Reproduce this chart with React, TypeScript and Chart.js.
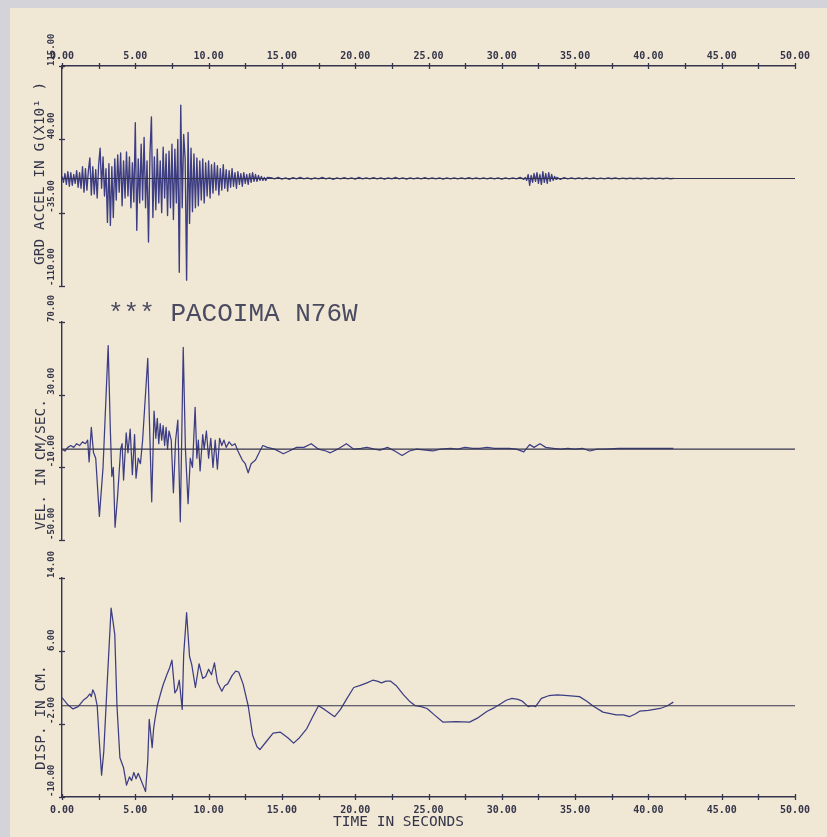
import React, { useEffect, useRef } from "react";
import { Chart, registerables } from "chart.js";

Chart.register(...registerables);

const W = 827;
const H = 837;
const MONO = '"DejaVu Sans Mono", "Liberation Mono", monospace';
const THIN_MONO = '"Liberation Mono", "DejaVu Sans Mono", monospace';
const TRACE = "#3d3d84";
const AXIS = "#34344e";
const TEXT = "#35354a";

// ---- tick values ----
const timeTicks = [0, 2.5, 5, 7.5, 10, 12.5, 15, 17.5, 20, 22.5, 25, 27.5, 30, 32.5, 35, 37.5, 40, 42.5, 45, 47.5, 50];
const accelTicks = [-110, -35, 40, 115];
const velTicks = [-50, -10, 30, 70];
const dispTicks = [-10, -2, 6, 14];

// ---- ground acceleration ----
const accelStep = 0.1; // seconds, from t = 0
const accelMain = [
  2, -4, 5, -6, 7, -8, 6, -7, 4, -5,
  8, -9, 6, -10, 12, -14, 10, -12, 8, 21,
  -17, 12, -16, 9, -20, 14, 31, -10, 22, -18,
  10, -45, 15, -48, 12, -40, 20, -22, 24, -14,
  26, -28, 18, -20, 27, -18, 22, -30, 16, -24,
  57, -53, 20, -25, 35, -22, 42, -30, 18, -65,
  25, 63, -40, 22, -32, 30, -25, 18, -35, 32,
  -20, 25, -38, 28, -30, 35, -42, 30, -25, 40,
  -96, 75, -30, 45, 20, -104, 47, -46, 31, -34,
  25, -30, 21, -28, 18, -22, 20, -25, 16, -18,
  18, -20, 14, -15, 16, -12, 13, -17, 10, -12,
  14, -10, 9, -13, 8, -9, 10, -8, 6, -10,
  7, -6, 5, -8, 6, -5, 4, -6, 5, -4,
  6, -3, 4, -3, 3, -2, 2, -2, 1, -2, 1,
];
const accelQuietStart = 14.25;
const accelQuietStep = 0.25;
const accelQuiet = [
  0.8, -0.5, 1, -0.8, 0.5, -1, 0.8, -0.5, 1, -0.5,
  0.5, -0.8, 0.5, -0.5, 1, -0.5, 0.5, -1, 0.5, -0.5,
  0.8, -0.5, 0.5, -0.8, 1, -0.5, 0.5, -0.5, 0.8, -0.5,
  0.5, -0.8, 0.5, -0.5, 1, -0.5, 0.5, -0.8, 0.5, -0.5,
  0.5, -0.5, 0.8, -0.5, 0.5, -0.5, 0.5, -0.8, 0.5, -0.5,
  0.5, -0.5, 0.5, -0.5, 0.8, -0.5, 0.5, -0.5, 0.5, -0.5,
  0.5, -0.5, 0.5, -0.8, 0.5, -0.5, 0.5, -0.5, 1, -1,
];
const accelBurstStart = 31.6;
const accelBurstStep = 0.1;
const accelBurst = [
  1, -2, 4, -7, 3, -4, 5, -3, 6, -5, 4, -6, 7, -4, 5, -5, 6, -3, 4, -2, 2, -1,
];
const accelLateStart = 33.75;
const accelLateStep = 0.25;
const accelLate = [
  1, -1, 0.8, -0.5, 0.5, -0.5, 0.5, -0.5, 0.5, -0.5,
  0.5, -0.5, 0.3, -0.5, 0.5, -0.3, 0.5, -0.5, 0.3, -0.3,
  0.3, -0.3, 0.3, -0.3, 0.3, -0.3, 0.3, -0.3, 0.3, -0.3,
  0.3, -0.3, 0,
];

// ---- velocity (cm/sec) ----
const velTimes = [
  0, 0.2, 0.4, 0.6, 0.8, 1.0, 1.2, 1.4, 1.6, 1.75, 1.85, 2.0, 2.15, 2.3, 2.55, 2.8,
  3.15, 3.3, 3.4, 3.5, 3.62, 3.8, 4.0, 4.1, 4.2, 4.38, 4.5, 4.65, 4.8, 4.95, 5.05,
  5.2, 5.35, 5.5, 5.85, 6.0, 6.12, 6.28, 6.4, 6.5, 6.6, 6.7, 6.8, 6.9, 7.0, 7.1,
  7.2, 7.3, 7.45, 7.6, 7.75, 7.9, 8.07, 8.27, 8.42, 8.6, 8.75, 8.9, 9.08, 9.2, 9.3,
  9.42, 9.6, 9.7, 9.85, 10.0, 10.15, 10.3, 10.45, 10.6, 10.75, 10.9, 11.05, 11.2,
  11.4, 11.6, 11.8, 12.0, 12.3, 12.5, 12.7, 12.9, 13.2, 13.5, 13.7, 14.0, 14.5,
  15.1, 15.5, 16.0, 16.5, 17.0, 17.5, 18.0, 18.3, 18.8, 19.4, 19.9, 20.4, 20.8,
  21.3, 21.7, 22.2, 22.7, 23.2, 23.7, 24.2, 24.8, 25.3, 25.8, 26.5, 27.0, 27.5,
  28.0, 28.5, 29.0, 29.5, 30.0, 30.5, 31.0, 31.5, 31.9, 32.2, 32.6, 33.0, 33.5,
  34.0, 34.5, 35.0, 35.5, 36.0, 36.5, 37.0, 38.0, 39.0, 40.0, 41.0, 41.7,
];
const velValues = [
  0, -1, 1, 2, 1, 3, 2, 4, 3, 5, -7, 12, -2, -5, -37, -10,
  57, 10, -15, -10, -43, -25, 0, 3, -17, 9, -2, 11, -14, 8, -16,
  -5, -8, 5, 50, 5, -29, 21, 6, 17, 3, 14, 5, 13, 2, 12,
  0, 10, 5, -24, 5, 16, -40, 56, 0, -30, -5, -10, 23, -5, 5,
  -12, 8, 0, 10, -5, 6, -10, 5, -11, 6, 2, 5, 1,
  4, 2, 3, -1, -6, -8, -13, -8, -6, -1, 2, 1, 0,
  -2.5, -1, 1, 1, 3, 0, -1, -2, 0, 3, 0, 0.5, 1,
  0, -0.5, 1, -1, -3.5, -1, 0, -0.5, -1, 0, 0.5, 0, 1,
  0.5, 0.5, 1, 0.5, 0.5, 0.5, 0, -1.5, 2.5, 1, 3, 1, 0.5,
  0, 0.5, 0, 0.5, -1, 0, 0, 0.5, 0.5, 0.5, 0.5, 0.5,
];

// ---- displacement (cm) ----
const dispTimes = [
  0, 0.4, 0.75, 1.1, 1.45, 1.7, 1.9, 2.0, 2.1, 2.25, 2.4, 2.55, 2.7, 2.85, 3.1,
  3.35, 3.5, 3.6, 3.75, 3.95, 4.2, 4.4, 4.6, 4.75, 4.9, 5.05, 5.2, 5.4, 5.6, 5.7,
  5.85, 5.95, 6.05, 6.15, 6.25, 6.35, 6.5, 6.7, 6.9, 7.15, 7.35, 7.5, 7.7, 7.85,
  8.0, 8.2, 8.3, 8.5, 8.7, 8.85, 9.1, 9.35, 9.6, 9.8, 10.0, 10.2, 10.4, 10.6, 10.9,
  11.1, 11.3, 11.6, 11.85, 12.05, 12.35, 12.7, 13.0, 13.3, 13.5, 13.9, 14.4, 14.9,
  15.4, 15.8, 16.2, 16.7, 17.1, 17.5, 17.9, 18.6, 19.0, 19.4, 19.9, 20.3, 20.8,
  21.2, 21.5, 21.8, 22.1, 22.4, 22.8, 23.3, 23.7, 24.1, 24.5, 24.9, 25.4, 26.0,
  26.9, 27.8, 28.4, 29.0, 29.5, 29.9, 30.3, 30.7, 31.1, 31.4, 31.8, 32.1, 32.3,
  32.7, 33.2, 33.8, 34.5, 35.3, 35.8, 36.2, 36.9, 37.8, 38.3, 38.7, 39.1, 39.4,
  40.0, 40.8, 41.3, 41.7,
];
const dispValues = [
  0.9, 0.1, -0.35, -0.1, 0.6, 0.9, 1.3, 1.0, 1.75, 1.2, 0, -4, -7.6, -5, 3,
  10.7, 9, 7.8, 0, -5.7, -6.8, -8.7, -7.8, -8.2, -7.3, -8, -7.4, -8.2, -9, -9.4,
  -6, -1.5, -3, -4.6, -2.5, -1.4, 0, 1.2, 2.3, 3.4, 4.2, 5, 1.4, 1.8,
  2.8, -0.4, 5.6, 10.2, 5.4, 4.5, 2, 4.6, 3, 3.2, 4, 3.4, 4.7, 2.6, 1.6,
  2.2, 2.4, 3.3, 3.8, 3.7, 2.4, 0, -3.2, -4.5, -4.8, -4, -3, -2.9,
  -3.5, -4.1, -3.5, -2.5, -1.2, 0, -0.4, -1.2, -0.4, 0.7, 2, 2.2, 2.5,
  2.8, 2.7, 2.5, 2.7, 2.7, 2.2, 1.2, 0.5, 0, -0.1, -0.3, -1, -1.8,
  -1.75, -1.8, -1.3, -0.6, -0.2, 0.2, 0.6, 0.8, 0.7, 0.5, -0.1, 0, -0.1,
  0.8, 1.1, 1.2, 1.1, 1.0, 0.5, 0, -0.7, -1.0, -1.0, -1.2, -0.9, -0.6,
  -0.5, -0.3, 0, 0.4,
];

type Pt = { x: number; y: number };
const pairs = (times: number[], values: number[]): Pt[] => times.map((t, i) => ({ x: t, y: values[i] }));
const stepped = (start: number, step: number, values: number[]): Pt[] =>
  values.map((v, i) => ({ x: Math.round((start + i * step) * 1000) / 1000, y: v }));

const accelSeries = [
  ...stepped(0, accelStep, accelMain),
  ...stepped(accelQuietStart, accelQuietStep, accelQuiet),
  ...stepped(accelBurstStart, accelBurstStep, accelBurst),
  ...stepped(accelLateStart, accelLateStep, accelLate),
];
const velSeries = pairs(velTimes, velValues);
const dispSeries = pairs(dispTimes, dispValues);
const baselineSeries = pairs([0, 50], [0, 0]);

// tick marks crossing the axis lines
const crossTicks = {
  id: "crossTicks",
  afterDraw(chart: any) {
    const ctx = chart.ctx;
    ctx.save();
    ctx.strokeStyle = AXIS;
    ctx.lineWidth = 1.3;
    Object.values(chart.scales).forEach((s: any) => {
      if (!s.options.display) return;
      s.ticks.forEach((t: any) => {
        const p = Math.round(s.getPixelForValue(t.value)) + 0.5;
        ctx.beginPath();
        if (s.isHorizontal()) {
          const y = s.position === "top" ? s.bottom : s.top;
          ctx.moveTo(p, y - 3);
          ctx.lineTo(p, y + 3);
        } else {
          const x = s.right;
          ctx.moveTo(x - 3, p);
          ctx.lineTo(x + 3, p);
        }
        ctx.stroke();
      });
    });
    ctx.restore();
  },
};

type TextItem = { text: string; x: number; y: number; rot?: number; font: string; color?: string };
const textPlugin = (items: (chart: any) => TextItem[]) => ({
  id: "panelText",
  afterDraw(chart: any) {
    const ctx = chart.ctx;
    items(chart).forEach((it) => {
      ctx.save();
      ctx.translate(it.x, it.y);
      if (it.rot) ctx.rotate(it.rot);
      ctx.font = it.font;
      ctx.fillStyle = it.color || TEXT;
      ctx.textAlign = "left";
      ctx.textBaseline = "middle";
      ctx.fillText(it.text, 0, 0);
      ctx.restore();
    });
  },
});

type PanelOpts = {
  series: Pt[];
  traceWidth: number;
  yMin: number;
  yMax: number;
  yTicks: number[];
  padding: { top: number; bottom: number; left: number; right: number };
  xPosition: "top" | "bottom" | null;
  xHeight: number;
  texts: (chart: any) => TextItem[];
};

function panelConfig(o: PanelOpts): any {
  return {
    type: "line",
    data: {
      datasets: [
        { data: baselineSeries, borderColor: AXIS, borderWidth: 1.1, pointRadius: 0, tension: 0 },
        {
          data: o.series,
          borderColor: TRACE,
          borderWidth: o.traceWidth,
          pointRadius: 0,
          tension: 0,
          borderJoinStyle: "round",
        },
      ],
    },
    options: {
      responsive: false,
      animation: false,
      devicePixelRatio: 1,
      events: [],
      layout: { padding: o.padding },
      plugins: { legend: { display: false }, tooltip: { enabled: false }, title: { display: false } },
      scales: {
        x: {
          type: "linear",
          min: 0,
          max: 50,
          display: o.xPosition !== null,
          position: o.xPosition || "bottom",
          afterBuildTicks: (s: any) => {
            s.ticks = timeTicks.map((value) => ({ value }));
          },
          afterFit: (s: any) => {
            s.height = o.xHeight;
          },
          ticks: {
            autoSkip: false,
            minRotation: 0,
            maxRotation: 0,
            padding: o.xPosition === "top" ? 4 : 7,
            color: TEXT,
            font: { family: MONO, size: 10, weight: "bold" },
            callback: (v: any) => (Math.abs(Number(v) % 5) < 1e-9 ? Number(v).toFixed(2) : ""),
          },
          grid: { display: true, drawOnChartArea: false, drawTicks: false, color: "rgba(0,0,0,0)" },
          border: { display: true, color: AXIS, width: 1.4 },
        },
        y: {
          type: "linear",
          min: o.yMin,
          max: o.yMax,
          position: "left",
          afterBuildTicks: (s: any) => {
            s.ticks = o.yTicks.map((value) => ({ value }));
          },
          afterFit: (s: any) => {
            s.width = 15;
          },
          ticks: {
            autoSkip: false,
            minRotation: 90,
            maxRotation: 90,
            crossAlign: "far",
            align: "start",
            padding: 0,
            color: TEXT,
            font: { family: MONO, size: 9, weight: "bold" },
            callback: (v: any) => Number(v).toFixed(2),
          },
          grid: { display: true, drawOnChartArea: false, drawTicks: false, color: "rgba(0,0,0,0)" },
          border: { display: true, color: AXIS, width: 1.4 },
        },
      },
    },
    plugins: [crossTicks, textPlugin(o.texts)],
  };
}

const TITLE_FONT = `14.5px ${MONO}`;

export default function App() {
  const r1 = useRef<HTMLCanvasElement>(null);
  const r2 = useRef<HTMLCanvasElement>(null);
  const r3 = useRef<HTMLCanvasElement>(null);

  useEffect(() => {
    const charts: Chart[] = [];
    charts.push(
      new Chart(
        r1.current as HTMLCanvasElement,
        panelConfig({
          series: accelSeries,
          traceWidth: 1.35,
          yMin: -110,
          yMax: 115,
          yTicks: accelTicks,
          padding: { top: 40, bottom: H - 286, left: 47, right: W - 795 },
          xPosition: "top",
          xHeight: 26,
          texts: (c) => [
            { text: "GRD ACCEL IN G(X10\u00B9 )", x: c.scales.y.left - 7, y: c.chartArea.bottom - 21, rot: -Math.PI / 2, font: TITLE_FONT },
          ],
        })
      )
    );
    charts.push(
      new Chart(
        r2.current as HTMLCanvasElement,
        panelConfig({
          series: velSeries,
          traceWidth: 1.25,
          yMin: -50,
          yMax: 70,
          yTicks: velTicks,
          padding: { top: 322, bottom: H - 540, left: 47, right: W - 795 },
          xPosition: null,
          xHeight: 0,
          texts: (c) => [
            { text: "VEL. IN CM/SEC.", x: c.scales.y.left - 6, y: c.chartArea.bottom - 10, rot: -Math.PI / 2, font: TITLE_FONT },
            { text: "*** PACOIMA N76W", x: c.chartArea.left + 46, y: c.chartArea.top - 8, font: `26px ${THIN_MONO}`, color: "#4a4a60" },
          ],
        })
      )
    );
    charts.push(
      new Chart(
        r3.current as HTMLCanvasElement,
        panelConfig({
          series: dispSeries,
          traceWidth: 1.25,
          yMin: -10,
          yMax: 14,
          yTicks: dispTicks,
          padding: { top: 578, bottom: 10, left: 47, right: W - 795 },
          xPosition: "bottom",
          xHeight: 30,
          texts: (c) => [
            { text: "DISP. IN CM.", x: c.scales.y.left - 6, y: c.chartArea.bottom - 27, rot: -Math.PI / 2, font: TITLE_FONT },
            { text: "TIME IN SECONDS", x: c.chartArea.left + 271, y: c.chartArea.bottom + 25, font: TITLE_FONT },
          ],
        })
      )
    );
    return () => charts.forEach((c) => c.destroy());
  }, []);

  const canvasStyle: React.CSSProperties = { position: "absolute", left: 0, top: 0 };
  return (
    <div style={{ position: "fixed", left: 0, top: 0, width: W, height: H, background: "#d3d3d9", overflow: "hidden" }}>
      <div style={{ position: "absolute", left: 10, top: 8, right: 0, bottom: 0, background: "#f0e8d4" }} />
      <canvas ref={r1} width={W} height={H} style={canvasStyle} />
      <canvas ref={r2} width={W} height={H} style={canvasStyle} />
      <canvas ref={r3} width={W} height={H} style={canvasStyle} />
    </div>
  );
}
